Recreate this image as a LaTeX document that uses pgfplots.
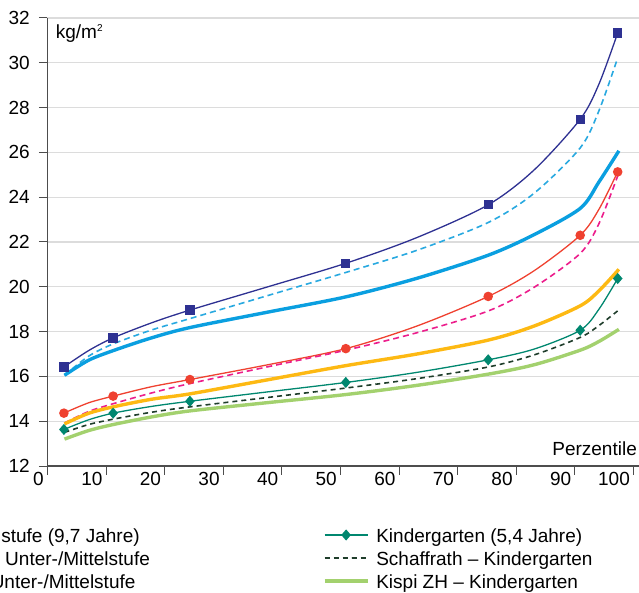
\documentclass[border=0pt]{standalone}
\usepackage{pgfplots}
\pgfplotsset{compat=1.18}
\usepackage{fontspec}
\setmainfont{Liberation Sans}

\definecolor{obNavy}{HTML}{2E3192}
\definecolor{obDash}{HTML}{29A9E0}
\definecolor{obKispi}{HTML}{0A9FE0}
\definecolor{umRed}{HTML}{EF4130}
\definecolor{umDash}{HTML}{EC1E8C}
\definecolor{umKispi}{HTML}{FDB913}
\definecolor{kgTeal}{HTML}{00876F}
\definecolor{kgDash}{HTML}{1F3D2B}
\definecolor{kgKispi}{HTML}{A3D16E}
\definecolor{axisgray}{HTML}{4D4D4D}
\definecolor{gridgray}{HTML}{DCDCDC}

\pgfplotsset{
  longlegend/.style={
    legend image code/.code={%
      \draw[##1, mark indices={2}]
        plot coordinates {(0bp,3bp) (21.5bp,3bp) (43bp,3bp)};}},
  thinline/.style={line width=1.3bp, smooth},
  dashline/.style={line width=1.6bp, smooth, dash pattern=on 6bp off 4bp},
  thickline/.style={line width=3.4bp, smooth},
}

\begin{document}
\begin{tikzpicture}[font=\fontsize{19bp}{23bp}\selectfont]
\begin{axis}[
  at={(0,0)}, anchor=south west,
  scale only axis, width=591.3bp, height=448bp,
  xmin=0, xmax=100.9, ymin=12, ymax=32,
  axis x line*=bottom, axis y line*=left,
  axis line style={axisgray, line width=1.2bp},
  xtick={0,10,...,100}, ytick={12,14,...,32},
  tick align=outside, major tick length=8.5bp,
  tick style={axisgray, line width=1bp},
  ymajorgrids, grid style={gridgray, line width=1.1bp},
  /pgf/number format/assume math mode=true,
  xticklabel style={anchor=north east, inner sep=0pt, xshift=-3.5bp, yshift=2.5bp},
  yticklabel style={anchor=east, inner sep=0pt, xshift=-9bp},
  longlegend,
  legend columns=3, transpose legend,
  legend cell align=left,
  legend style={draw=none, fill=none, inner sep=0pt, outer sep=0pt,
    at={(axis cs:0,12)}, anchor=north east, xshift=545bp, yshift=-62.5bp,
    row sep=4.0bp, column sep=7bp,
    nodes={inner sep=0pt, text height=14bp, text depth=5bp},
    /tikz/every even column/.append style={column sep=173bp}},
]

% Oberstufe
\addplot[thinline, obNavy, mark=square*, mark size=4bp, mark indices={1,3,5,7,9,11,13}, forget plot] coordinates {
  (2.8,16.42) (7,17.15) (11.2,17.72) (17.75,18.39) (24.3,18.96) (37.6,20.0) (50.9,21.05)
  (63.05,22.2) (75.2,23.66) (83.05,25.22) (90.9,27.48) (94.1,29.05) (97.3,31.33)};
\addplot[dashline, obDash, forget plot] coordinates {
  (2.9,16.05) (7,16.9) (11.2,17.45) (17.75,18.07) (24.3,18.58) (37.6,19.61) (50.9,20.64)
  (63.05,21.63) (75.2,22.87) (83.05,24.18) (90.9,26.2) (94.1,27.86) (97.3,30.22)};
\addplot[thickline, obKispi, forget plot] coordinates {
  (2.9,16.05) (7,16.72) (11.2,17.15) (17.75,17.72) (24.3,18.18) (37.6,18.87) (50.9,19.55)
  (63.05,20.38) (75.2,21.41) (83.05,22.33) (90.9,23.5) (94.1,24.68) (97.5,26.07)};

% Unter-/Mittelstufe
\addplot[thinline, umRed, mark=*, mark size=4.1bp, mark indices={1,3,5,7,9,11,13}] coordinates {
  (2.8,14.36) (7,14.82) (11.2,15.12) (17.75,15.54) (24.3,15.86) (37.6,16.52) (50.9,17.24)
  (63.05,18.25) (75.2,19.57) (83.05,20.72) (90.9,22.30) (94.1,23.46) (97.3,25.13)};
\addlegendentry{Unter-/Mittelstufe (9,7 Jahre)}
\addplot[dashline, umDash] coordinates {
  (2.9,13.92) (7,14.43) (11.2,14.78) (17.75,15.26) (24.3,15.68) (37.6,16.43) (50.9,17.17)
  (63.05,17.95) (75.2,18.92) (83.05,19.98) (90.9,21.49) (94.1,22.82) (97.3,24.95)};
\addlegendentry{Schaffrath -- Unter-/Mittelstufe}
\addplot[thickline, umKispi] coordinates {
  (2.9,13.88) (7,14.35) (11.2,14.64) (17.75,14.98) (24.3,15.22) (37.6,15.85) (50.9,16.48)
  (63.05,17.0) (75.2,17.62) (83.05,18.25) (90.9,19.15) (94.1,19.82) (97.5,20.78)};
\addlegendentry{Kispi ZH -- Unter-/Mittelstufe}

% Kindergarten
\addplot[thinline, kgTeal, mark=diamond*, mark size=4.6bp, mark options={xscale=1.15}, mark indices={1,3,5,7,9,11,13}] coordinates {
  (2.8,13.63) (7,14.06) (11.2,14.36) (17.75,14.66) (24.3,14.89) (37.6,15.31) (50.9,15.73)
  (63.05,16.18) (75.2,16.74) (83.05,17.22) (90.9,18.06) (94.1,19.0) (97.3,20.37)};
\addlegendentry{Kindergarten (5,4 Jahre)}
\addplot[line width=1.6bp, smooth, dash pattern=on 5bp off 4bp, kgDash] coordinates {
  (2.9,13.5) (7,13.85) (11.2,14.09) (17.75,14.4) (24.3,14.64) (37.6,15.06) (50.9,15.48)
  (63.05,15.9) (75.2,16.42) (83.05,16.96) (90.9,17.74) (94.1,18.27) (97.6,18.99)};
\addlegendentry{Schaffrath -- Kindergarten}
\addplot[thickline, kgKispi] coordinates {
  (2.9,13.2) (7,13.58) (11.2,13.85) (17.75,14.19) (24.3,14.46) (37.6,14.83) (50.9,15.19)
  (63.05,15.6) (75.2,16.1) (83.05,16.52) (90.9,17.17) (94.1,17.56) (97.5,18.1)};
\addlegendentry{Kispi ZH -- Kindergarten}

\node[anchor=base west, inner sep=0pt] at (axis cs:1.4,31.09)
  {kg/m\raisebox{6.5bp}{\fontsize{10bp}{10bp}\selectfont 2}};
\node[anchor=base east, inner sep=0pt] at (axis cs:100.6,12.49) {Perzentile};
\end{axis}
\pgfresetboundingbox
\path[use as bounding box] (-47.5bp,-127bp) rectangle (591.5bp,466bp);
\end{tikzpicture}
\end{document}
